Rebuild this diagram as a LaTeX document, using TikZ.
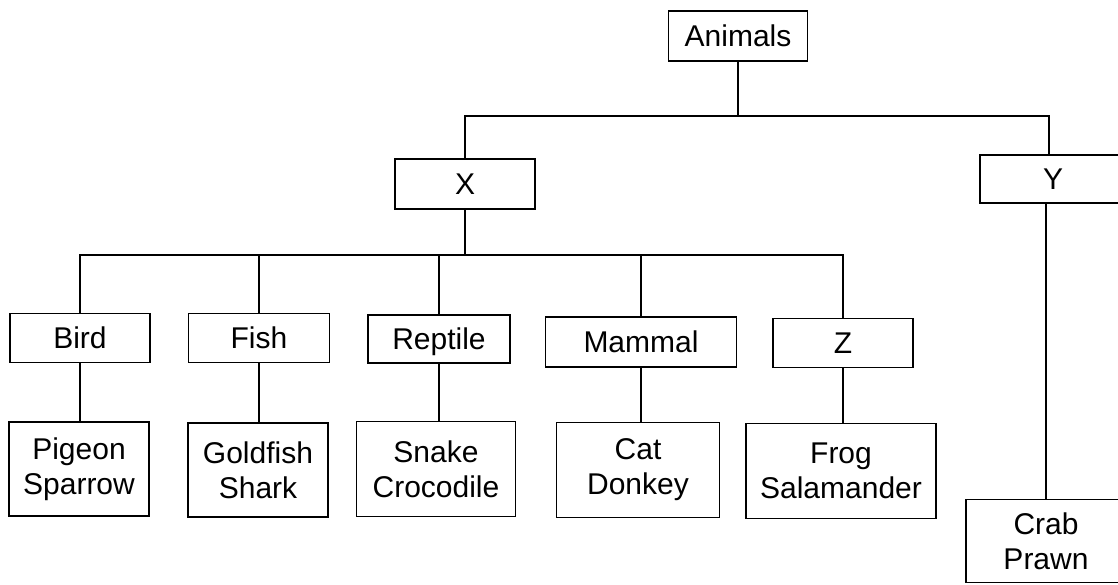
\documentclass[tikz,border=0pt]{standalone}
\usepackage{fontspec}
\setmainfont{Liberation Sans}
\begin{document}
\begin{tikzpicture}[x=1pt,y=1pt,
  box/.style={draw=black, line width=1.9pt, inner sep=0pt, align=center,
    font=\fontsize{30}{35}\selectfont},
  onebox/.style={box, text height=21pt, text depth=0pt},
  conn/.style={draw=black, line width=1.9pt}]
\useasboundingbox (0,0) rectangle (1118,-585);
% level 0
\node[onebox, minimum width=139, minimum height=50] (animals) at (738,-36) {Animals};
% level 1
\node[onebox, minimum width=140, minimum height=50] (X) at (465,-184) {X};
\node[onebox, minimum width=146, minimum height=48] (Y) at (1053,-179) {Y};
% level 2
\node[onebox, minimum width=140, minimum height=49] (bird) at (80,-338) {Bird};
\node[onebox, minimum width=141, minimum height=49] (fish) at (259,-338) {Fish};
\node[onebox, minimum width=142, minimum height=48] (reptile) at (439,-339) {Reptile};
\node[onebox, minimum width=191, minimum height=50] (mammal) at (641,-342) {Mammal};
\node[onebox, minimum width=140, minimum height=49] (Z) at (843,-343) {Z};
% level 3
\node[box, minimum width=140, minimum height=94] (pigeon) at (79,-469) {Pigeon\\Sparrow};
\node[box, minimum width=140, minimum height=94] (goldfish) at (258,-470) {Goldfish\\Shark};
\node[box, minimum width=159, minimum height=95] (snake) at (436,-469) {Snake\\Crocodile};
\node[box, minimum width=163, minimum height=95] (cat) at (638,-470) {Cat\\Donkey};
\node[box, minimum width=190, minimum height=95] (frog) at (841,-471) {Frog\\Salamander};
\node[box, minimum width=160, minimum height=83] (crab) at (1046,-541) {Crab\\Prawn};
% bus coordinates
\coordinate (bus1) at (0,-116);
\coordinate (bus2) at (0,-255);
\coordinate (ytop) at (1049,-155);
% connectors level 0 -> 1
\draw[conn] (animals.south) -- (animals.south |- bus1);
\draw[conn] (X.north) -- (X.north |- bus1) -- (ytop |- bus1) -- (ytop);
% level 1 -> 2
\draw[conn] (X.south) -- (X.south |- bus2);
\draw[conn] (bird.north) -- (bird.north |- bus2) -- (Z.north |- bus2) -- (Z.north);
\draw[conn] (fish.north) -- (fish.north |- bus2);
\draw[conn] (reptile.north) -- (reptile.north |- bus2);
\draw[conn] (mammal.north) -- (mammal.north |- bus2);
% level 2 -> 3
\draw[conn] (bird.south) -- (bird.south |- pigeon.north);
\draw[conn] (fish.south) -- (fish.south |- goldfish.north);
\draw[conn] (reptile.south) -- (reptile.south |- snake.north);
\draw[conn] (mammal.south) -- (mammal.south |- cat.north);
\draw[conn] (Z.south) -- (Z.south |- frog.north);
\draw[conn] (crab.north |- Y.south) -- (crab.north);
\end{tikzpicture}
\end{document}
